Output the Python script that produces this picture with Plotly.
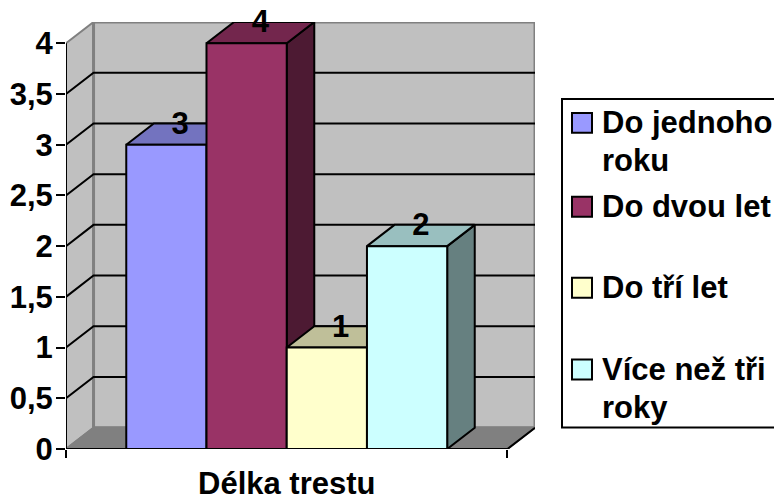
import plotly.graph_objects as go

CATEGORY = "Délka trestu"
SERIES = [["Do jednoho", "roku"], ["Do dvou let"], ["Do tří let"], ["Více než tři", "roky"]]
VALUES = [3, 4, 1, 2]
FRONT = ["#9999FF", "#993366", "#FFFFCC", "#CCFFFF"]
TOP = ["#7373BF", "#73264D", "#BFBF99", "#99BFBF"]
SIDE = ["#4D4D80", "#4D1A33", "#808066", "#668080"]
TICK_VALS = [0, 0.5, 1, 1.5, 2, 2.5, 3, 3.5, 4]
TICK_TEXT = ["0", "0,5", "1", "1,5", "2", "2,5", "3", "3,5", "4"]

# fake 3d: depth of the box in axis units
DEPTH_X = 0.0624
DEPTH_Y = 0.21
GAP = 0.1365
BAR_W = (1 - 2 * GAP) / len(VALUES)

FIG_W, FIG_H = 774, 496
PLOT_L, PLOT_R, PLOT_T, PLOT_B = 66, 535, 22, 449.5
FONT = dict(family="Liberation Sans, Arial, sans-serif", size=31, color="black", weight="bold")


def poly(xs, ys, fill, line="black", width=2):
    return go.Scatter(x=xs + xs[:1], y=ys + ys[:1], mode="lines", fill="toself", fillcolor=fill,
                      line=dict(color=line, width=width), hoverinfo="skip", showlegend=False,
                      cliponaxis=False)


def seg(xs, ys, color="black", width=2):
    return go.Scatter(x=xs, y=ys, mode="lines", line=dict(color=color, width=width),
                      hoverinfo="skip", showlegend=False, cliponaxis=False)


def px_x(p):
    return (p - PLOT_L) / (PLOT_R - PLOT_L)


def px_y(p):
    return (PLOT_B - p) / (PLOT_B - PLOT_T)


fig = go.Figure()

# walls and floor
top_val = TICK_VALS[-1]
fig.add_trace(poly([0, DEPTH_X, DEPTH_X, 0], [0, DEPTH_Y, top_val + DEPTH_Y, top_val], "#C0C0C0", "#808080"))
fig.add_trace(poly([DEPTH_X, 1 + DEPTH_X, 1 + DEPTH_X, DEPTH_X], [DEPTH_Y, DEPTH_Y, top_val + DEPTH_Y, top_val + DEPTH_Y],
                   "#C0C0C0", "#808080", 3))
fig.add_trace(poly([0, 1, 1 + DEPTH_X, DEPTH_X], [0, 0, DEPTH_Y, DEPTH_Y], "#808080", "#808080"))

# gridlines
for v in TICK_VALS[1:-1]:
    fig.add_trace(seg([0, DEPTH_X, 1 + DEPTH_X], [v, v + DEPTH_Y, v + DEPTH_Y]))

# axis lines in front
fig.add_trace(seg([0, 0], [0, top_val]))
fig.add_trace(seg([0, 1, 1 + DEPTH_X], [0, 0, DEPTH_Y]))

# bars, left to right so the later ones cover the earlier sides
label_x = []
label_y = []
for i, v in enumerate(VALUES):
    x0 = GAP + i * BAR_W
    x1 = x0 + BAR_W
    fig.add_trace(poly([x1, x1 + DEPTH_X, x1 + DEPTH_X, x1], [0, DEPTH_Y, v + DEPTH_Y, v], SIDE[i]))
    fig.add_trace(poly([x0, x1, x1 + DEPTH_X, x0 + DEPTH_X], [v, v, v + DEPTH_Y, v + DEPTH_Y], TOP[i]))
    fig.add_trace(poly([x0, x1, x1, x0], [0, 0, v, v], FRONT[i]))
    label_x.append((x0 + x1 + DEPTH_X) / 2)
    label_y.append(v + DEPTH_Y - 0.025)

fig.add_trace(go.Scatter(x=label_x, y=label_y, mode="text", text=[str(v) for v in VALUES],
                         textposition="middle center", textfont=FONT, hoverinfo="skip",
                         showlegend=False, cliponaxis=False))

# legend is hand made, the native one can't do these big swatches
shapes = [dict(type="rect", xref="paper", yref="paper", x0=px_x(562), x1=px_x(790), y0=px_y(428), y1=px_y(99),
               line=dict(color="black", width=2), fillcolor="white", layer="below")]
annotations = []
swatch_tops = [113, 197, 278, 360]
for lines, color, t in zip(SERIES, FRONT, swatch_tops):
    shapes.append(dict(type="rect", xref="paper", yref="paper", x0=px_x(572), x1=px_x(592), y0=px_y(t + 20), y1=px_y(t),
                       line=dict(color="black", width=2), fillcolor=color))
    for k, line in enumerate(lines):
        annotations.append(dict(xref="paper", yref="paper", x=px_x(602), y=px_y(t + 10 + 38 * k), text=line,
                                showarrow=False, xanchor="left", yanchor="middle", font=FONT, xshift=-2))

annotations.append(dict(xref="x", yref="paper", x=0.5, y=px_y(484), text=CATEGORY, showarrow=False, height=24,
                        xanchor="center", yanchor="middle", font=FONT))

fig.update_layout(
    width=FIG_W, height=FIG_H,
    margin=dict(l=PLOT_L, r=FIG_W - PLOT_R, t=PLOT_T, b=FIG_H - PLOT_B),
    paper_bgcolor="white", plot_bgcolor="white",
    showlegend=False, shapes=shapes, annotations=annotations,
    xaxis=dict(range=[0, 1 + DEPTH_X], tickvals=[0, 1], ticktext=["", ""], ticks="outside", ticklen=8, tickwidth=2,
               tickcolor="black", showgrid=False, zeroline=False, showline=False, automargin=False),
    yaxis=dict(range=[0, top_val + DEPTH_Y], tickvals=TICK_VALS, ticktext=TICK_TEXT, ticks="outside", ticklen=9,
               tickwidth=2, tickcolor="black", tickfont=FONT, ticklabelstandoff=-3, showgrid=False, zeroline=False,
               showline=False, automargin=False),
)

# the page body has an 8px margin by default, drop it so the figure fills the window
fig.write_html("out.html", config=dict(displayModeBar=False), post_script="document.body.style.margin='0';")
